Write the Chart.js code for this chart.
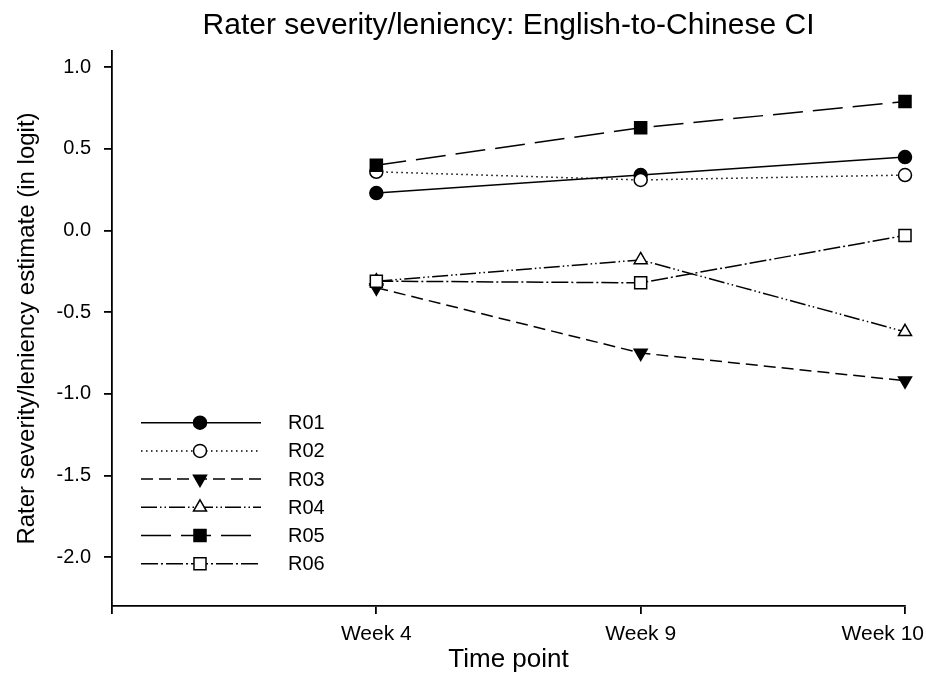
<!DOCTYPE html>
<html>
<head>
<meta charset="utf-8">
<script src="https://cdn.jsdelivr.net/npm/chart.js@4/dist/chart.umd.min.js"></script>
<style>
  html, body { margin: 0; padding: 0; background: #ffffff; }
  #c { display: block; }
</style>
</head>
<body>
<canvas id="c" width="926" height="675"></canvas>
<script>
// Time points on the x axis (the leading blank slot leaves room before Week 4)
const timePoints = ['Week 4', 'Week 9', 'Week 10'];
const raters = ['R01', 'R02', 'R03', 'R04', 'R05', 'R06'];

// Severity/leniency estimates in logits, one value per time point
const r01 = [0.23, 0.34, 0.45];
const r02 = [0.36, 0.31, 0.34];
const r03 = [-0.35, -0.75, -0.92];
const r04 = [-0.31, -0.18, -0.62];
const r05 = [0.40, 0.63, 0.79];
const r06 = [-0.31, -0.32, -0.03];

const yTicks = [-2.0, -1.5, -1.0, -0.5, 0.0, 0.5, 1.0];
const yMin = -2.3;
const yMax = 1.1;

const FONT = '"Liberation Sans", Arial, Helvetica, sans-serif';
const series = [r01, r02, r03, r04, r05, r06];

// Line and marker style for each rater
const styles = [
  { dash: [],                      shape: 'circle',   rot: 0,   fill: '#000', r: 6.5 },
  { dash: [1.5, 3.5],              shape: 'circle',   rot: 0,   fill: '#fff', r: 6.5 },
  { dash: [12, 6],                 shape: 'triangle', rot: 180, fill: '#000', r: 7.5 },
  { dash: [16, 3, 1.5, 3, 1.5, 3], shape: 'triangle', rot: 0,   fill: '#fff', r: 7.5 },
  { dash: [30, 10],                shape: 'rect',     rot: 0,   fill: '#000', r: 8.5 },
  { dash: [17, 3, 2, 3],           shape: 'rect',     rot: 0,   fill: '#fff', r: 8.5 }
];

const datasets = raters.map((name, i) => ({
  label: name,
  data: [null, ...series[i]],
  borderColor: '#000',
  borderWidth: 1.5,
  borderDash: styles[i].dash,
  pointStyle: styles[i].shape,
  pointRotation: styles[i].rot,
  pointRadius: styles[i].r,
  pointHoverRadius: styles[i].r,
  pointBackgroundColor: styles[i].fill,
  pointBorderColor: '#000',
  pointBorderWidth: 1.5,
  fill: false,
  tension: 0,
  clip: false,
  order: raters.length - i
}));

// Title centred over the plotting area
const plotTitle = {
  id: 'plotTitle',
  afterDraw(chart) {
    const { ctx, chartArea } = chart;
    ctx.save();
    ctx.fillStyle = '#000';
    ctx.font = '30px ' + FONT;
    ctx.textAlign = 'center';
    ctx.textBaseline = 'alphabetic';
    ctx.fillText('Rater severity/leniency: English-to-Chinese CI', (chartArea.left + chartArea.right) / 2, 34);
    ctx.restore();
  }
};

// Time point labels under the x ticks, kept inside the canvas at the right edge
const timeLabels = {
  id: 'timeLabels',
  afterDraw(chart) {
    const { ctx } = chart;
    const xs = chart.scales.x;
    ctx.save();
    ctx.fillStyle = '#000';
    ctx.font = '21px ' + FONT;
    ctx.textAlign = 'center';
    ctx.textBaseline = 'middle';
    timePoints.forEach((label, i) => {
      const w = ctx.measureText(label).width;
      let x = xs.getPixelForValue(i + 1);
      x = Math.min(x, chart.width - 2 - w / 2);
      ctx.fillText(label, x, xs.top + 28);
    });
    ctx.restore();
  }
};

// Key with a line sample and marker for every rater, inside the plot
const raterKey = {
  id: 'raterKey',
  afterDraw(chart) {
    const { ctx, chartArea } = chart;
    const x0 = chartArea.left + 29;
    const x1 = chartArea.left + 149;
    const xm = chartArea.left + 88;
    const xt = chartArea.left + 176;
    const yStart = chartArea.top + 371.7;
    const step = 28.2;
    chart.data.datasets.forEach((ds, i) => {
      const y = yStart + i * step;
      ctx.save();
      ctx.strokeStyle = ds.borderColor;
      ctx.lineWidth = ds.borderWidth;
      ctx.setLineDash(ds.borderDash);
      ctx.beginPath();
      ctx.moveTo(x0, y);
      ctx.lineTo(x1, y);
      ctx.stroke();
      ctx.setLineDash([]);
      ctx.fillStyle = ds.pointBackgroundColor;
      ctx.strokeStyle = ds.pointBorderColor;
      ctx.lineWidth = ds.pointBorderWidth;
      Chart.helpers.drawPoint(ctx, {
        pointStyle: ds.pointStyle,
        rotation: ds.pointRotation,
        radius: ds.pointRadius,
        borderWidth: ds.pointBorderWidth
      }, xm, y);
      ctx.fillStyle = '#000';
      ctx.font = '20px ' + FONT;
      ctx.textAlign = 'left';
      ctx.textBaseline = 'middle';
      ctx.fillText(ds.label, xt, y + 1);
      ctx.restore();
    });
  }
};

new Chart(document.getElementById('c'), {
  type: 'line',
  data: {
    labels: ['', ...timePoints],
    datasets: datasets
  },
  plugins: [plotTitle, timeLabels, raterKey],
  options: {
    responsive: false,
    devicePixelRatio: 1,
    animation: false,
    events: [],
    layout: { padding: { left: 0, right: 21, top: 51, bottom: 0 } },
    plugins: {
      legend: { display: false },
      title: { display: false },
      tooltip: { enabled: false }
    },
    scales: {
      x: {
        type: 'category',
        offset: false,
        border: { display: true, color: '#000', width: 1.8 },
        grid: { display: true, drawOnChartArea: false, drawTicks: true, tickLength: 8, color: '#000', lineWidth: 1.8 },
        ticks: { display: false, autoSkip: false },
        title: { display: true, text: 'Time point', color: '#000', font: { family: FONT, size: 26 }, padding: { top: 0, bottom: 0 } },
        afterFit(scale) {
          scale.height = 69;
          scale.paddingLeft = 0;
          scale.paddingRight = 0;
        }
      },
      y: {
        type: 'linear',
        min: yMin,
        max: yMax,
        border: { display: true, color: '#000', width: 1.8 },
        grid: { display: true, drawOnChartArea: false, drawTicks: true, tickLength: 8, color: '#000', lineWidth: 1.8 },
        afterBuildTicks(scale) {
          scale.ticks = yTicks.map(v => ({ value: v }));
        },
        ticks: {
          color: '#000',
          font: { family: FONT, size: 20 },
          padding: 13,
          callback: v => Number(v).toFixed(1)
        },
        title: { display: true, text: 'Rater severity/leniency estimate (in logit)', color: '#000', font: { family: FONT, size: 24 }, padding: { top: 13, bottom: 0 } },
        afterFit(scale) {
          scale.width = 112;
          scale.paddingTop = 0;
          scale.paddingBottom = 0;
        }
      }
    }
  }
});
</script>
</body>
</html>
